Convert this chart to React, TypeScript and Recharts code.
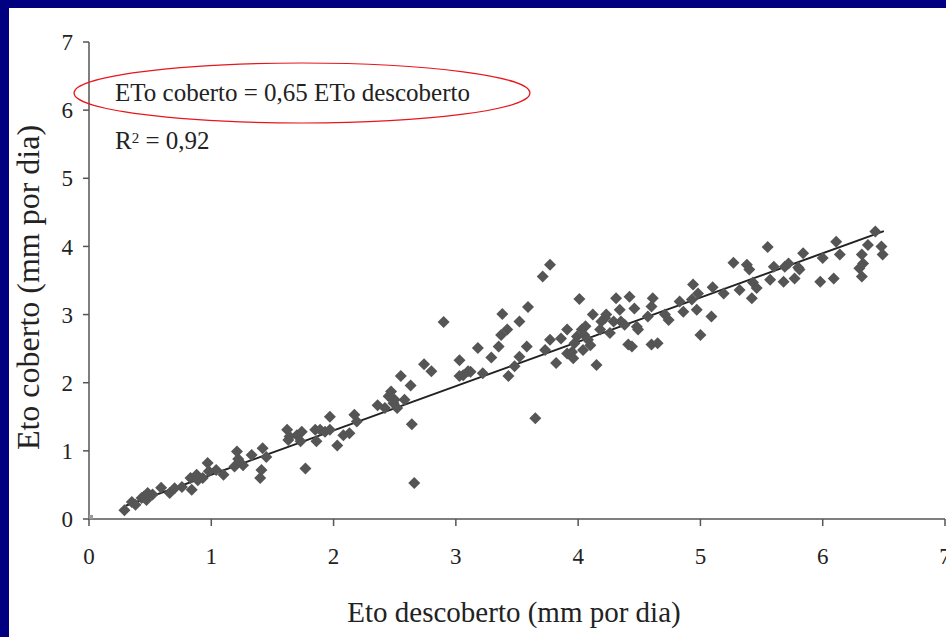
import React from 'react';
import { ScatterChart, Scatter, XAxis, YAxis, ReferenceLine } from 'recharts';

const xTicks = [0, 1, 2, 3, 4, 5, 6, 7];
const yTicks = [0, 1, 2, 3, 4, 5, 6, 7];

const etoDescoberto = [
  0.29, 0.35, 0.38, 0.43, 0.45, 0.47, 0.48, 0.52, 0.59, 0.66, 0.70, 0.76, 0.83, 0.84, 0.88, 0.89, 0.93, 0.97, 0.98,
  1.04, 1.10, 1.19, 1.21, 1.22, 1.26, 1.33, 1.40, 1.41, 1.42, 1.45, 1.62, 1.63, 1.64, 1.70, 1.73, 1.74, 1.77, 1.85,
  1.86, 1.89, 1.93, 1.97, 1.97, 2.03, 2.08, 2.13, 2.17, 2.19, 2.36, 2.42, 2.45, 2.47, 2.49, 2.50, 2.52, 2.55, 2.58,
  2.63, 2.64, 2.66, 2.74, 2.80, 2.90, 3.03, 3.03, 3.06, 3.10, 3.12, 3.18, 3.22, 3.29, 3.35, 3.37, 3.38, 3.42, 3.43,
  3.48, 3.52, 3.52, 3.58, 3.59, 3.65, 3.71, 3.77, 3.73, 3.77, 3.82, 3.86, 3.91, 3.91, 3.95, 3.96, 3.97, 3.99, 4.01,
  4.03, 4.04, 4.05, 4.06, 4.08, 4.10, 4.12, 4.15, 4.18, 4.19, 4.22, 4.23, 4.26, 4.29, 4.31, 4.34, 4.35, 4.38, 4.41,
  4.42, 4.44, 4.46, 4.48, 4.49, 4.57, 4.60, 4.60, 4.61, 4.65, 4.71, 4.74, 4.83, 4.86, 4.93, 4.94, 4.98, 4.97, 5.00,
  5.09, 5.10, 5.19, 5.27, 5.32, 5.38, 5.40, 5.42, 5.43, 5.46, 5.55, 5.57, 5.60, 5.68, 5.69, 5.72, 5.77, 5.80, 5.81,
  5.84, 5.98, 6.00, 6.09, 6.11, 6.14, 6.30, 6.32, 6.32, 6.33, 6.37, 6.43, 6.48, 6.49,
];
const etoCoberto = [
  0.13, 0.25, 0.21, 0.31, 0.33, 0.28, 0.38, 0.36, 0.46, 0.38, 0.45, 0.47, 0.60, 0.43, 0.65, 0.57, 0.60, 0.82, 0.70,
  0.72, 0.65, 0.77, 0.99, 0.88, 0.79, 0.94, 0.60, 0.72, 1.04, 0.91, 1.31, 1.16, 1.21, 1.23, 1.14, 1.28, 0.74, 1.31,
  1.14, 1.31, 1.28, 1.50, 1.31, 1.08, 1.23, 1.26, 1.53, 1.43, 1.67, 1.63, 1.80, 1.87, 1.70, 1.75, 1.63, 2.10, 1.75,
  1.96, 1.39, 0.53, 2.27, 2.17, 2.89, 2.10, 2.33, 2.11, 2.17, 2.16, 2.51, 2.14, 2.37, 2.53, 2.70, 3.01, 2.78, 2.10,
  2.24, 2.90, 2.38, 2.53, 3.11, 1.48, 3.56, 3.73, 2.48, 2.63, 2.29, 2.65, 2.78, 2.43, 2.45, 2.36, 2.58, 2.68, 3.23,
  2.78, 2.48, 2.70, 2.83, 2.63, 2.55, 3.00, 2.26, 2.78, 2.90, 2.95, 3.00, 2.73, 2.90, 3.24, 3.07, 2.90, 2.85, 2.56,
  3.26, 2.53, 3.09, 2.82, 2.78, 2.97, 2.56, 3.12, 3.24, 2.58, 3.00, 2.92, 3.19, 3.04, 3.22, 3.44, 3.31, 3.07, 2.70,
  2.97, 3.40, 3.31, 3.76, 3.36, 3.73, 3.66, 3.24, 3.47, 3.39, 3.99, 3.51, 3.70, 3.48, 3.70, 3.75, 3.53, 3.69, 3.66,
  3.90, 3.48, 3.83, 3.53, 4.07, 3.88, 3.68, 3.88, 3.56, 3.75, 4.02, 4.22, 4.00, 3.88,
];

const originX = [0];
const originY = [0];

const fitSlope = 0.65;
const fitRange = [0.3, 6.5];

const points = etoDescoberto.map((x, i) => ({ x, y: etoCoberto[i] }));
const origin = originX.map((x, i) => ({ x, y: originY[i] }));
const fitSegment = fitRange.map((x) => ({ x, y: fitSlope * x }));

const serif = '"Liberation Serif", "Times New Roman", serif';

const Diamond = (props: any) => {
  const { cx, cy } = props;
  const r = 6;
  return <path d={`M${cx},${cy - r}L${cx + r},${cy}L${cx},${cy + r}L${cx - r},${cy}Z`} fill="#555555" />;
};

const Square = (props: any) => {
  const { cx, cy } = props;
  return <rect x={cx - 4} y={cy - 4} width={8} height={8} fill="#9a9a9a" />;
};

const YTitle = (props: any) => {
  const vb = props.viewBox;
  const x = vb.x - 1;
  const y = vb.y + vb.height / 2 + 7;
  return (
    <text x={x} y={y} transform={`rotate(-90, ${x}, ${y})`} textAnchor="middle" dominantBaseline="central"
      fontFamily={serif} fontSize={32} fill="#222">
      Eto coberto (mm por dia)
    </text>
  );
};

const XTitle = (props: any) => {
  const vb = props.viewBox;
  const x = vb.x + vb.width / 2 - 3;
  return (
    <text x={x} y={612} textAnchor="middle" dominantBaseline="central" fontFamily={serif} fontSize={29} fill="#222">
      Eto descoberto (mm por dia)
    </text>
  );
};

export default function App() {
  return (
    <div style={{ position: 'absolute', left: 0, top: 0, width: 946, height: 637, background: '#000080', overflow: 'hidden' }}>
      <div style={{ position: 'absolute', left: 9, top: 8, width: 937, height: 629, background: '#ffffff' }} />
      <div style={{ position: 'absolute', left: 0, top: 0 }}>
        <ScatterChart width={946} height={637} margin={{ top: 42, right: 1, bottom: 58, left: 29 }}>
          <XAxis
            type="number"
            dataKey="x"
            domain={[0, 7]}
            ticks={xTicks}
            interval={0}
            allowDataOverflow
            height={60}
            stroke="#555"
            strokeWidth={1.5}
            tickSize={7}
            tickMargin={22}
            tick={{ fontFamily: serif, fontSize: 23, fill: '#222' }}
            label={<XTitle />}
          />
          <YAxis
            type="number"
            dataKey="y"
            domain={[0, 7]}
            ticks={yTicks}
            interval={0}
            allowDataOverflow
            width={60}
            stroke="#555"
            strokeWidth={1.5}
            tickSize={6}
            tickMargin={10}
            tick={{ fontFamily: serif, fontSize: 23, fill: '#222' }}
            label={<YTitle />}
          />
          <Scatter data={points} shape={<Diamond />} isAnimationActive={false} />
          <Scatter data={origin} shape={<Square />} isAnimationActive={false} />
          <ReferenceLine segment={fitSegment} stroke="#222" strokeWidth={2} ifOverflow="visible" />
        </ScatterChart>
      </div>
      <svg style={{ position: 'absolute', left: 0, top: 0 }} width={946} height={637} pointerEvents="none">
        <ellipse cx={302} cy={93} rx={228} ry={30} fill="none" stroke="#e8161b" strokeWidth={1.2} />
      </svg>
      <div style={{ position: 'absolute', left: 115, top: 78, fontFamily: serif, fontSize: 25, color: '#222', lineHeight: '30px', whiteSpace: 'nowrap' }}>
        ETo coberto = 0,65 ETo descoberto
      </div>
      <div style={{ position: 'absolute', left: 115, top: 126, fontFamily: serif, fontSize: 25, color: '#222', lineHeight: '30px', whiteSpace: 'nowrap' }}>
        R<sup style={{ fontSize: 15, verticalAlign: 'top', position: 'relative', top: -3 }}>2</sup> = 0,92
      </div>
    </div>
  );
}
